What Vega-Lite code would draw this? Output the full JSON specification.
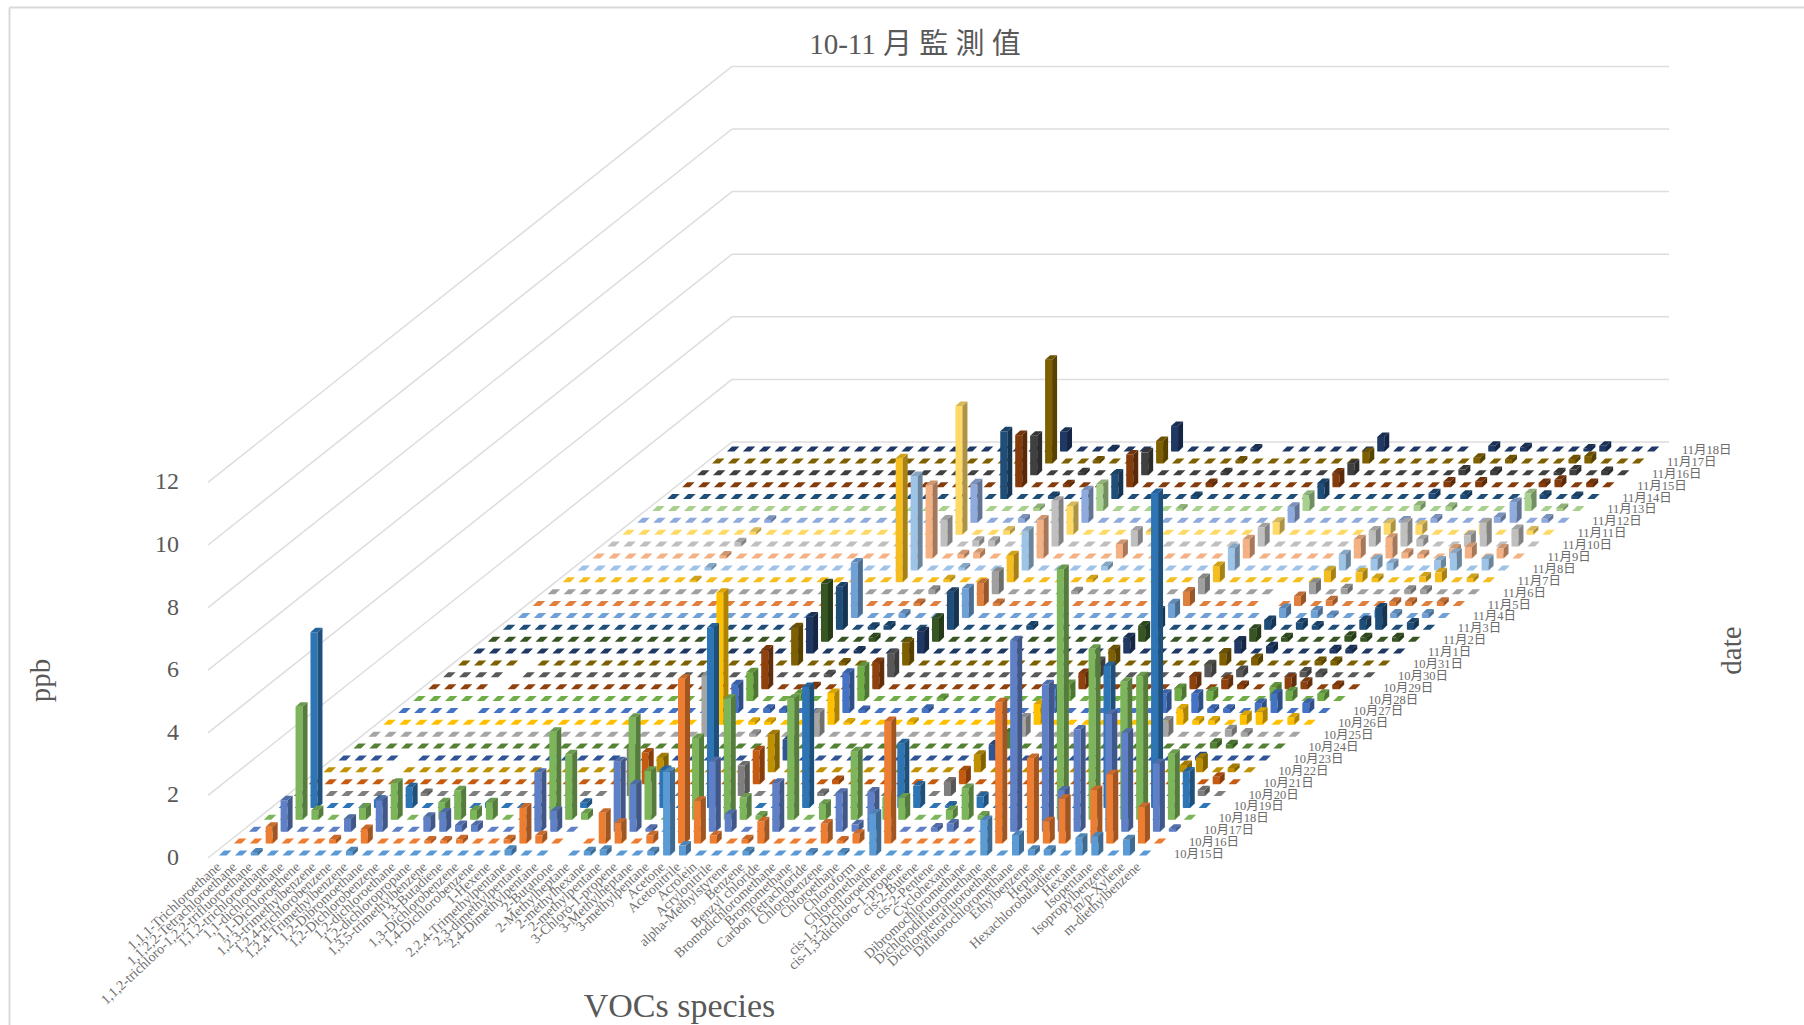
{"$schema":"https://vega.github.io/schema/vega-lite/v6.json","autosize":"none","width":1804,"height":1025,"padding":0,"background":"white","view":{"stroke":null},
"title":{"text":"10-11 月 監 測 值","anchor":"middle","frame":"group","dx":13,"dy":60,"offset":0,"fontSize":29,"fontWeight":"normal","font":"Liberation Serif, Noto Sans CJK TC","color":"#595959"},
"config":{"text":{"font":"Liberation Serif, Noto Sans CJK TC"}},
"params":[{"name":"pal","value":["#5B9BD5","#ED7D31","#5F80C6","#7DB65A","#2E75B6","#7F7F7F","#C55A11","#BF9000","#2F5597","#548235","#A5A5A5","#FFC000","#4472C4","#70AD47","#8F420E","#595959","#7F6000","#1F3864","#375623","#1F4E79","#6FA0D6","#E0803F","#A0A0A0","#F5BE1E","#9DC3E6","#F4B183","#BFBFBF","#FFD966","#8FAADC","#A9D18E","#1F4E79","#843C0C","#404040","#7F6000","#1F3864"]}],
"datasets":{
"ticks":[{"v":0},{"v":2},{"v":4},{"v":6},{"v":8},{"v":10},{"v":12}],
"species":[{"s":0,"name":"1,1,1-Trichloroethane"},{"s":1,"name":"1,1,2,2-Tetrachloroethane"},{"s":2,"name":"1,1,2-trichloro-1,2,2-trifluoroethane"},{"s":3,"name":"1,1,2-trichloroethane"},{"s":4,"name":"1,1-dichloroethane"},{"s":5,"name":"1,1-Dichloroethene"},{"s":6,"name":"1,2,3-trimethylbenzene"},{"s":7,"name":"1,2,4-trichlorobenzene"},{"s":8,"name":"1,2,4-Trimethylbenzene"},{"s":9,"name":"1,2-Dibromoethane"},{"s":10,"name":"1,2-Dichlorobenzene"},{"s":11,"name":"1,2-dichloroethane"},{"s":12,"name":"1,2-dichloropropane"},{"s":13,"name":"1,3,5-trimethylbenzene"},{"s":14,"name":"1,3-Butadiene"},{"s":15,"name":"1,3-Dichlorobenzene"},{"s":16,"name":"1,4-Dichlorobenzene"},{"s":17,"name":"1-Hexene"},{"s":18,"name":"2,2,4-Trimethylpentane"},{"s":19,"name":"2,3-dimethylpentane"},{"s":20,"name":"2,4-Dimethylpentane"},{"s":21,"name":"2-Butanone"},{"s":22,"name":"2-Methylheptane"},{"s":23,"name":"2-methylhexane"},{"s":24,"name":"2-methylpentane"},{"s":25,"name":"3-Chloro-1-propene"},{"s":26,"name":"3-Methylheptane"},{"s":27,"name":"3-methylpentane"},{"s":28,"name":"Acetone"},{"s":29,"name":"Acetonitrile"},{"s":30,"name":"Acrolein"},{"s":31,"name":"Acrylonitrile"},{"s":32,"name":"alpha-Methylstyrene"},{"s":33,"name":"Benzene"},{"s":34,"name":"Benzyl chloride"},{"s":35,"name":"Bromodichloromethane"},{"s":36,"name":"Bromomethane"},{"s":37,"name":"Carbon Tetrachloride"},{"s":38,"name":"Chlorobenzene"},{"s":39,"name":"Chloroethane"},{"s":40,"name":"Chloroform"},{"s":41,"name":"Chloromethane"},{"s":42,"name":"cis-1,2-Dichloroethene"},{"s":43,"name":"cis-1,3-dichloro-1-propene"},{"s":44,"name":"cis-2-Butene"},{"s":45,"name":"cis-2-Pentene"},{"s":46,"name":"Cyclohexane"},{"s":47,"name":"Dibromochloromethane"},{"s":48,"name":"Dichlorodifluoromethane"},{"s":49,"name":"Dichlorotetrafluoroethane"},{"s":50,"name":"Difluorochloromethane"},{"s":51,"name":"Ethylbenzene"},{"s":52,"name":"Heptane"},{"s":53,"name":"Hexachlorobutadiene"},{"s":54,"name":"Hexane"},{"s":55,"name":"Isopentane"},{"s":56,"name":"Isopropylbenzene"},{"s":57,"name":"m/p-Xylene"},{"s":58,"name":"m-diethylbenzene"}],
"dates":[{"d":0,"name":"10月15日"},{"d":1,"name":"10月16日"},{"d":2,"name":"10月17日"},{"d":3,"name":"10月18日"},{"d":4,"name":"10月19日"},{"d":5,"name":"10月20日"},{"d":6,"name":"10月21日"},{"d":7,"name":"10月22日"},{"d":8,"name":"10月23日"},{"d":9,"name":"10月24日"},{"d":10,"name":"10月25日"},{"d":11,"name":"10月26日"},{"d":12,"name":"10月27日"},{"d":13,"name":"10月28日"},{"d":14,"name":"10月29日"},{"d":15,"name":"10月30日"},{"d":16,"name":"10月31日"},{"d":17,"name":"11月1日"},{"d":18,"name":"11月2日"},{"d":19,"name":"11月3日"},{"d":20,"name":"11月4日"},{"d":21,"name":"11月5日"},{"d":22,"name":"11月6日"},{"d":23,"name":"11月7日"},{"d":24,"name":"11月8日"},{"d":25,"name":"11月9日"},{"d":26,"name":"11月10日"},{"d":27,"name":"11月11日"},{"d":28,"name":"11月12日"},{"d":29,"name":"11月13日"},{"d":30,"name":"11月14日"},{"d":31,"name":"11月15日"},{"d":32,"name":"11月16日"},{"d":33,"name":"11月17日"},{"d":34,"name":"11月18日"}],
"bars":[
{"d":0,"s":2,"v":0.08},{"d":0,"s":8,"v":0.12},{"d":0,"s":18,"v":0.17},{"d":0,"s":23,"v":0.12},{"d":0,"s":24,"v":0.17},{"d":0,"s":27,"v":0.12},{"d":0,"s":28,"v":2.66},{"d":0,"s":29,"v":0.3},{"d":0,"s":33,"v":0.12},{"d":0,"s":37,"v":0.08},{"d":0,"s":39,"v":0.08},{"d":0,"s":41,"v":1.33},{"d":0,"s":48,"v":1.12},{"d":0,"s":50,"v":0.64},{"d":0,"s":51,"v":0.17},{"d":0,"s":52,"v":0.17},{"d":0,"s":54,"v":0.55},{"d":0,"s":55,"v":0.6},{"d":0,"s":57,"v":0.5},
{"d":1,"s":2,"v":0.52},{"d":1,"s":6,"v":0.12},{"d":1,"s":8,"v":0.45},{"d":1,"s":12,"v":0.08},{"d":1,"s":13,"v":0.08},{"d":1,"s":14,"v":0.12},{"d":1,"s":17,"v":0.12},{"d":1,"s":18,"v":1.14},{"d":1,"s":19,"v":0.25},{"d":1,"s":23,"v":0.97},{"d":1,"s":24,"v":0.65},{"d":1,"s":26,"v":0.25},{"d":1,"s":28,"v":5.25},{"d":1,"s":29,"v":1.35},{"d":1,"s":30,"v":0.25},{"d":1,"s":32,"v":0.12},{"d":1,"s":33,"v":0.7},{"d":1,"s":37,"v":0.63},{"d":1,"s":38,"v":0.08},{"d":1,"s":39,"v":0.3},{"d":1,"s":41,"v":3.9},{"d":1,"s":48,"v":4.5},{"d":1,"s":50,"v":2.72},{"d":1,"s":51,"v":0.7},{"d":1,"s":52,"v":1.42},{"d":1,"s":54,"v":1.7},{"d":1,"s":55,"v":2.2},{"d":1,"s":57,"v":1.15},
{"d":2,"s":2,"v":0.99},{"d":2,"s":6,"v":0.4},{"d":2,"s":8,"v":0.99},{"d":2,"s":11,"v":0.46},{"d":2,"s":12,"v":0.6},{"d":2,"s":13,"v":0.2},{"d":2,"s":14,"v":0.2},{"d":2,"s":18,"v":1.87},{"d":2,"s":19,"v":0.65},{"d":2,"s":23,"v":2.24},{"d":2,"s":24,"v":1.5},{"d":2,"s":25,"v":0.08},{"d":2,"s":29,"v":2.24},{"d":2,"s":30,"v":0.55},{"d":2,"s":33,"v":1.55},{"d":2,"s":37,"v":1.23},{"d":2,"s":38,"v":0.22},{"d":2,"s":39,"v":1.27},{"d":2,"s":43,"v":0.12},{"d":2,"s":44,"v":0.25},{"d":2,"s":48,"v":6.1},{"d":2,"s":50,"v":4.7},{"d":2,"s":51,"v":1.3},{"d":2,"s":52,"v":3.25},{"d":2,"s":54,"v":3.75},{"d":2,"s":55,"v":3.15},{"d":2,"s":57,"v":2.17},{"d":2,"s":58,"v":0.08},
{"d":3,"s":2,"v":3.6},{"d":3,"s":3,"v":0.3},{"d":3,"s":6,"v":0.38},{"d":3,"s":8,"v":1.17},{"d":3,"s":11,"v":0.55},{"d":3,"s":12,"v":0.93},{"d":3,"s":13,"v":0.3},{"d":3,"s":14,"v":0.55},{"d":3,"s":18,"v":2.8},{"d":3,"s":19,"v":2.08},{"d":3,"s":20,"v":0.2},{"d":3,"s":23,"v":3.25},{"d":3,"s":24,"v":1.55},{"d":3,"s":27,"v":2.6},{"d":3,"s":29,"v":3.85},{"d":3,"s":30,"v":0.7},{"d":3,"s":31,"v":0.12},{"d":3,"s":33,"v":3.85},{"d":3,"s":35,"v":0.5},{"d":3,"s":37,"v":2.18},{"d":3,"s":39,"v":0.7},{"d":3,"s":40,"v":0.7},{"d":3,"s":43,"v":0.3},{"d":3,"s":44,"v":1.0},{"d":3,"s":45,"v":0.12},{"d":3,"s":50,"v":8.0},{"d":3,"s":52,"v":5.45},{"d":3,"s":54,"v":4.4},{"d":3,"s":55,"v":4.57},{"d":3,"s":57,"v":2.1},
{"d":4,"s":2,"v":5.6},{"d":4,"s":6,"v":0.25},{"d":4,"s":8,"v":0.65},{"d":4,"s":13,"v":0.15},{"d":4,"s":19,"v":0.15},{"d":4,"s":24,"v":1.2},{"d":4,"s":27,"v":5.75},{"d":4,"s":33,"v":3.85},{"d":4,"s":39,"v":2.05},{"d":4,"s":40,"v":0.7},{"d":4,"s":42,"v":0.06},{"d":4,"s":44,"v":0.35},{"d":4,"s":52,"v":4.52},{"d":4,"s":55,"v":10.05},{"d":4,"s":57,"v":1.15},
{"d":5,"s":8,"v":0.08},{"d":5,"s":21,"v":1.5},{"d":5,"s":28,"v":0.96},{"d":5,"s":33,"v":0.08},{"d":5,"s":41,"v":0.45},{"d":5,"s":57,"v":0.17},
{"d":6,"s":21,"v":1.0},{"d":6,"s":28,"v":1.07},{"d":6,"s":33,"v":0.12},{"d":6,"s":41,"v":0.43},{"d":6,"s":57,"v":0.22},
{"d":7,"s":21,"v":0.47},{"d":7,"s":28,"v":1.2},{"d":7,"s":41,"v":0.55},{"d":7,"s":54,"v":0.22},{"d":7,"s":55,"v":0.45},{"d":7,"s":57,"v":0.12},
{"d":8,"s":28,"v":0.65},{"d":8,"s":41,"v":0.5},{"d":8,"s":54,"v":0.12},
{"d":9,"s":41,"v":0.5},{"d":9,"s":54,"v":0.17},{"d":9,"s":55,"v":0.12},
{"d":10,"s":21,"v":1.95},{"d":10,"s":24,"v":0.08},{"d":10,"s":28,"v":0.75},{"d":10,"s":41,"v":0.6},{"d":10,"s":50,"v":0.5},{"d":10,"s":54,"v":0.22},{"d":10,"s":55,"v":0.12},
{"d":11,"s":21,"v":4.2},{"d":11,"s":23,"v":0.08},{"d":11,"s":24,"v":0.08},{"d":11,"s":28,"v":1.0},{"d":11,"s":29,"v":0.06},{"d":11,"s":33,"v":0.08},{"d":11,"s":41,"v":0.65},{"d":11,"s":50,"v":0.5},{"d":11,"s":51,"v":0.12},{"d":11,"s":52,"v":0.12},{"d":11,"s":54,"v":0.3},{"d":11,"s":55,"v":0.4},{"d":11,"s":57,"v":0.22},
{"d":12,"s":21,"v":0.9},{"d":12,"s":23,"v":0.12},{"d":12,"s":24,"v":0.08},{"d":12,"s":28,"v":1.27},{"d":12,"s":29,"v":0.08},{"d":12,"s":33,"v":0.12},{"d":12,"s":41,"v":0.75},{"d":12,"s":48,"v":0.6},{"d":12,"s":50,"v":0.6},{"d":12,"s":51,"v":0.12},{"d":12,"s":52,"v":0.12},{"d":12,"s":54,"v":0.3},{"d":12,"s":55,"v":0.6},{"d":12,"s":57,"v":0.3},
{"d":13,"s":21,"v":0.9},{"d":13,"s":24,"v":0.22},{"d":13,"s":28,"v":1.1},{"d":13,"s":33,"v":0.08},{"d":13,"s":41,"v":0.53},{"d":13,"s":48,"v":0.4},{"d":13,"s":50,"v":0.3},{"d":13,"s":54,"v":0.45},{"d":13,"s":55,"v":0.3},{"d":13,"s":57,"v":0.22},
{"d":14,"s":21,"v":1.25},{"d":14,"s":24,"v":0.08},{"d":14,"s":28,"v":0.85},{"d":14,"s":41,"v":0.5},{"d":14,"s":48,"v":0.4},{"d":14,"s":50,"v":0.3},{"d":14,"s":51,"v":0.12},{"d":14,"s":54,"v":0.35},{"d":14,"s":55,"v":0.22},{"d":14,"s":57,"v":0.12},
{"d":15,"s":24,"v":0.08},{"d":15,"s":28,"v":0.75},{"d":15,"s":41,"v":0.5},{"d":15,"s":48,"v":0.4},{"d":15,"s":50,"v":0.22},{"d":15,"s":54,"v":0.17},{"d":15,"s":55,"v":0.12},
{"d":16,"s":21,"v":1.2},{"d":16,"s":24,"v":0.08},{"d":16,"s":28,"v":0.72},{"d":16,"s":41,"v":0.5},{"d":16,"s":48,"v":0.4},{"d":16,"s":50,"v":0.22},{"d":16,"s":54,"v":0.12},{"d":16,"s":55,"v":0.12},
{"d":17,"s":21,"v":1.17},{"d":17,"s":24,"v":0.08},{"d":17,"s":28,"v":0.7},{"d":17,"s":41,"v":0.5},{"d":17,"s":48,"v":0.4},{"d":17,"s":50,"v":0.22},{"d":17,"s":54,"v":0.12},{"d":17,"s":55,"v":0.12},
{"d":18,"s":21,"v":1.85},{"d":18,"s":24,"v":0.12},{"d":18,"s":28,"v":0.75},{"d":18,"s":41,"v":0.5},{"d":18,"s":48,"v":0.4},{"d":18,"s":50,"v":0.12},{"d":18,"s":54,"v":0.17},{"d":18,"s":55,"v":0.12},{"d":18,"s":57,"v":0.12},
{"d":19,"s":21,"v":1.37},{"d":19,"s":23,"v":0.08},{"d":19,"s":24,"v":0.12},{"d":19,"s":28,"v":1.2},{"d":19,"s":33,"v":0.12},{"d":19,"s":41,"v":0.6},{"d":19,"s":48,"v":0.3},{"d":19,"s":50,"v":0.22},{"d":19,"s":51,"v":0.12},{"d":19,"s":54,"v":0.3},{"d":19,"s":55,"v":0.7},{"d":19,"s":57,"v":0.22},
{"d":20,"s":21,"v":1.75},{"d":20,"s":24,"v":0.12},{"d":20,"s":28,"v":0.93},{"d":20,"s":41,"v":0.45},{"d":20,"s":48,"v":0.3},{"d":20,"s":50,"v":0.22},{"d":20,"s":51,"v":0.08},{"d":20,"s":54,"v":0.22},{"d":20,"s":55,"v":0.12},{"d":20,"s":57,"v":0.12},
{"d":21,"s":24,"v":0.08},{"d":21,"s":28,"v":0.72},{"d":21,"s":29,"v":0.08},{"d":21,"s":41,"v":0.45},{"d":21,"s":48,"v":0.3},{"d":21,"s":50,"v":0.17},{"d":21,"s":54,"v":0.12},{"d":21,"s":55,"v":0.12},{"d":21,"s":57,"v":0.12},
{"d":22,"s":24,"v":0.12},{"d":22,"s":28,"v":0.7},{"d":22,"s":33,"v":0.08},{"d":22,"s":41,"v":0.5},{"d":22,"s":48,"v":0.35},{"d":22,"s":50,"v":0.17},{"d":22,"s":54,"v":0.12},{"d":22,"s":55,"v":0.12},
{"d":23,"s":8,"v":0.05},{"d":23,"s":21,"v":3.95},{"d":23,"s":24,"v":0.08},{"d":23,"s":28,"v":0.85},{"d":23,"s":33,"v":0.08},{"d":23,"s":41,"v":0.5},{"d":23,"s":48,"v":0.35},{"d":23,"s":50,"v":0.3},{"d":23,"s":51,"v":0.12},{"d":23,"s":54,"v":0.17},{"d":23,"s":55,"v":0.3},{"d":23,"s":57,"v":0.12},
{"d":24,"s":8,"v":0.08},{"d":24,"s":21,"v":3.0},{"d":24,"s":24,"v":0.08},{"d":24,"s":28,"v":1.25},{"d":24,"s":33,"v":0.12},{"d":24,"s":41,"v":0.7},{"d":24,"s":48,"v":0.5},{"d":24,"s":50,"v":0.35},{"d":24,"s":51,"v":0.22},{"d":24,"s":54,"v":0.3},{"d":24,"s":55,"v":0.55},{"d":24,"s":57,"v":0.35},
{"d":25,"s":8,"v":0.08},{"d":25,"s":21,"v":2.33},{"d":25,"s":23,"v":0.12},{"d":25,"s":24,"v":0.17},{"d":25,"s":28,"v":1.23},{"d":25,"s":33,"v":0.45},{"d":25,"s":41,"v":0.6},{"d":25,"s":48,"v":0.6},{"d":25,"s":50,"v":0.65},{"d":25,"s":51,"v":0.17},{"d":25,"s":52,"v":0.12},{"d":25,"s":54,"v":0.3},{"d":25,"s":55,"v":0.35},{"d":25,"s":57,"v":0.3},
{"d":26,"s":8,"v":0.12},{"d":26,"s":21,"v":0.85},{"d":26,"s":23,"v":0.17},{"d":26,"s":24,"v":0.17},{"d":26,"s":28,"v":1.45},{"d":26,"s":33,"v":0.5},{"d":26,"s":41,"v":0.6},{"d":26,"s":48,"v":0.5},{"d":26,"s":50,"v":0.75},{"d":26,"s":51,"v":0.22},{"d":26,"s":54,"v":0.35},{"d":26,"s":55,"v":0.75},{"d":26,"s":57,"v":0.55},
{"d":27,"s":8,"v":0.08},{"d":27,"s":21,"v":4.1},{"d":27,"s":24,"v":0.12},{"d":27,"s":28,"v":0.9},{"d":27,"s":33,"v":0.08},{"d":27,"s":41,"v":0.4},{"d":27,"s":48,"v":0.35},{"d":27,"s":50,"v":0.3},{"d":27,"s":54,"v":0.3},{"d":27,"s":57,"v":0.12},
{"d":28,"s":8,"v":0.08},{"d":28,"s":21,"v":1.25},{"d":28,"s":24,"v":0.12},{"d":28,"s":28,"v":1.03},{"d":28,"s":41,"v":0.5},{"d":28,"s":48,"v":0.06},{"d":28,"s":50,"v":0.12},{"d":28,"s":54,"v":0.17},{"d":28,"s":55,"v":0.65},{"d":28,"s":57,"v":0.12},
{"d":29,"s":24,"v":0.08},{"d":29,"s":28,"v":0.85},{"d":29,"s":33,"v":0.06},{"d":29,"s":41,"v":0.5},{"d":29,"s":48,"v":0.17},{"d":29,"s":50,"v":0.12},{"d":29,"s":55,"v":0.55},{"d":29,"s":57,"v":0.08},
{"d":30,"s":21,"v":2.15},{"d":30,"s":24,"v":0.08},{"d":30,"s":28,"v":0.8},{"d":30,"s":33,"v":0.08},{"d":30,"s":41,"v":0.5},{"d":30,"s":48,"v":0.17},{"d":30,"s":50,"v":0.12},{"d":30,"s":55,"v":0.12},{"d":30,"s":57,"v":0.08},
{"d":31,"s":21,"v":1.65},{"d":31,"s":24,"v":0.08},{"d":31,"s":28,"v":1.03},{"d":31,"s":33,"v":0.12},{"d":31,"s":41,"v":0.45},{"d":31,"s":48,"v":0.17},{"d":31,"s":50,"v":0.17},{"d":31,"s":54,"v":0.12},{"d":31,"s":55,"v":0.22},{"d":31,"s":57,"v":0.12},
{"d":32,"s":21,"v":1.25},{"d":32,"s":24,"v":0.08},{"d":32,"s":28,"v":0.72},{"d":32,"s":33,"v":0.08},{"d":32,"s":41,"v":0.35},{"d":32,"s":48,"v":0.17},{"d":32,"s":50,"v":0.12},{"d":32,"s":54,"v":0.08},{"d":32,"s":55,"v":0.17},{"d":32,"s":57,"v":0.12},
{"d":33,"s":21,"v":3.3},{"d":33,"s":24,"v":0.08},{"d":33,"s":28,"v":0.7},{"d":33,"s":33,"v":0.08},{"d":33,"s":41,"v":0.35},{"d":33,"s":48,"v":0.17},{"d":33,"s":50,"v":0.12},{"d":33,"s":54,"v":0.12},{"d":33,"s":55,"v":0.22},
{"d":34,"s":21,"v":0.62},{"d":34,"s":24,"v":0.06},{"d":34,"s":28,"v":0.8},{"d":34,"s":33,"v":0.08},{"d":34,"s":41,"v":0.45},{"d":34,"s":48,"v":0.17},{"d":34,"s":50,"v":0.12},{"d":34,"s":54,"v":0.08},{"d":34,"s":55,"v":0.17}
]},
"encoding":{
"x":{"field":"px","type":"quantitative","scale":{"domain":[0,1804],"range":[0,1804],"nice":false,"zero":false},"axis":{"title":"VOCs species","labels":false,"ticks":false,"domain":false,"grid":false,"titleX":679,"titleY":-19,"titleFont":"Liberation Serif","titleFontSize":34,"titleFontWeight":"normal","titleColor":"#595959","titleBaseline":"middle","titleAlign":"center"}},
"y":{"field":"py","type":"quantitative","scale":{"domain":[0,1025],"range":[0,1025],"nice":false,"zero":false},"axis":null}
},
"resolve":{"axis":{"y":"independent"}},
"layer":[
{"data":{"values":[{"edge":"left"}]},"transform":[{"calculate":"9.5","as":"px"},{"calculate":"7.5","as":"py"},{"calculate":"1025","as":"py2"}],"mark":{"type":"rule","color":"#D9D9D9","strokeWidth":2},"encoding":{"y2":{"field":"py2"}}},
{"data":{"values":[{"edge":"top"}]},"transform":[{"calculate":"9.5","as":"px"},{"calculate":"1804","as":"px2"},{"calculate":"7.5","as":"py"}],"mark":{"type":"rule","color":"#D9D9D9","strokeWidth":2},"encoding":{"x2":{"field":"px2"}}},
{"data":{"name":"ticks"},"transform":[{"calculate":"208","as":"px"},{"calculate":"732","as":"px2"},{"calculate":"858-31.3*datum.v","as":"py"},{"calculate":"442-31.3*datum.v","as":"py2"}],"mark":{"type":"rule","color":"#DDDDDD","strokeWidth":1.5},"encoding":{"x2":{"field":"px2"},"y2":{"field":"py2"}}},
{"data":{"name":"ticks"},"transform":[{"calculate":"732","as":"px"},{"calculate":"1669","as":"px2"},{"calculate":"442-31.3*datum.v","as":"py"}],"mark":{"type":"rule","color":"#DDDDDD","strokeWidth":1.5},"encoding":{"x2":{"field":"px2"}}},
{"data":{"name":"ticks"},"transform":[{"calculate":"179","as":"px"},{"calculate":"858-31.3*datum.v","as":"py"}],"mark":{"type":"text","align":"right","baseline":"middle","fontSize":24,"color":"#595959"},
 "encoding":{"text":{"field":"v"},"y":{"field":"py","type":"quantitative","axis":{"title":"ppb","orient":"left","labels":false,"ticks":false,"domain":false,"grid":false,"titleX":40,"titleY":680,"titleAngle":270,"titleFont":"Liberation Serif","titleFontSize":29,"titleFontWeight":"normal","titleColor":"#595959","titleBaseline":"middle","titleAlign":"center"}}}},
{"data":{"name":"species"},"transform":[{"calculate":"[0,1,2,3,4,5,6,7,8,9,10,11,12,13,14,15,16,17,18,19,20,21,22,23,24,25,26,27,28,29,30,31,32,33,34]","as":"d"},{"flatten":["d"]},
 {"filter":"indexof(['21-0','21-1','21-2','22-2','21-3','22-3','20-4','21-4','22-4','23-4','20-5','22-5','4-7','4-8','4-12','4-14','4-15','4-16','34-34','47-34','46-21','46-22','47-22','47-20','47-19'],datum.s+'-'+datum.d)<0"},
 {"calculate":"219+15.86*datum.s+14.94*datum.d","as":"px"},{"calculate":"855-11.88*datum.d","as":"py"},{"calculate":"pal[datum.d]","as":"col"}],
 "mark":{"type":"point","filled":true,"opacity":1,"size":4,"strokeWidth":0},
 "encoding":{"shape":{"value":"M0 0.5L7.5 0.5L12.5 -4.5L5 -4.5Z"},"fill":{"field":"col","type":"nominal","scale":null}}},
{"data":{"name":"bars"},"transform":[{"calculate":"[0,1,2]","as":"f"},{"flatten":["f"]},
 {"calculate":"219+15.86*datum.s+14.94*datum.d","as":"px"},{"calculate":"855-11.88*datum.d","as":"py"},{"calculate":"round(datum.v*313)/10","as":"h"},
 {"calculate":"datum.f==0?'M0 0L7 0L7 '+(-datum.h)+'L0 '+(-datum.h)+'Z':datum.f==1?'M7 0L12 -4.5L12 '+(-datum.h-4.5)+'L7 '+(-datum.h)+'Z':'M0 '+(-datum.h)+'L7 '+(-datum.h)+'L12 '+(-datum.h-4.5)+'L5 '+(-datum.h-4.5)+'Z'","as":"path"},
 {"calculate":"[1,0.68,0.85][datum.f]","as":"m"},{"calculate":"rgb(pal[datum.d])","as":"c"},
 {"calculate":"'rgb('+round(datum.c.r*datum.m)+','+round(datum.c.g*datum.m)+','+round(datum.c.b*datum.m)+')'","as":"col"},
 {"calculate":"(34-datum.d)*1000+datum.s*10+datum.f","as":"k"}],
 "mark":{"type":"point","filled":true,"opacity":1,"size":4,"strokeWidth":0},
 "encoding":{"shape":{"field":"path","type":"nominal","scale":null,"legend":null},"fill":{"field":"col","type":"nominal","scale":null},"order":{"field":"k","type":"quantitative"}}},
{"data":{"name":"species"},"transform":[{"calculate":"219+15.86*datum.s","as":"px"},{"calculate":"865","as":"py"}],"mark":{"type":"text","align":"right","baseline":"middle","angle":317,"fontSize":14,"color":"#707070"},"encoding":{"text":{"field":"name"}}},
{"data":{"name":"dates"},"transform":[{"calculate":"1174+14.94*datum.d","as":"px"},{"calculate":"854-11.88*datum.d","as":"py"}],"mark":{"type":"text","align":"left","baseline":"middle","fontSize":12.5,"color":"#6b6b6b"},
 "encoding":{"text":{"field":"name"},"y":{"field":"py","type":"quantitative","axis":{"title":"date","orient":"right","labels":false,"ticks":false,"domain":false,"grid":false,"titleX":-73,"titleY":650,"titleAngle":270,"titleFont":"Liberation Serif","titleFontSize":29,"titleFontWeight":"normal","titleColor":"#595959","titleBaseline":"middle","titleAlign":"center"}}}}
]}
